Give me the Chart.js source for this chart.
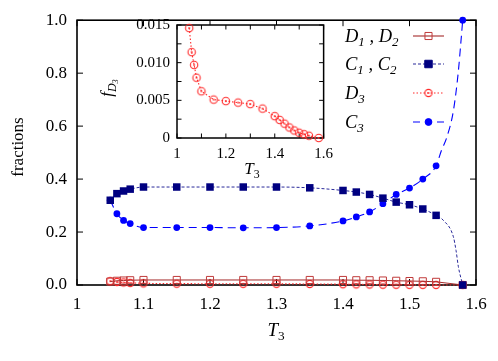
<!DOCTYPE html>
<html><head><meta charset="utf-8">
<script src="https://cdn.jsdelivr.net/npm/chart.js@4"></script>
<style>
html,body{margin:0;padding:0;background:#fff;}
#wrap{position:relative;width:498px;height:361px;overflow:hidden;}
#main{position:absolute;left:0;top:0;}
#inset{position:absolute;left:100px;top:0;}
</style></head><body>
<div id="wrap"><canvas id="main" width="498" height="361"></canvas><canvas id="inset" width="240" height="185"></canvas></div>
<script>
// ---- data ----
const T3 = [1.05,1.06,1.07,1.08,1.10,1.15,1.20,1.25,1.30,1.35,1.40,1.42,1.44,1.46,1.48,1.50,1.52,1.54,1.58];
const D12 = [0.013,0.016,0.017,0.018,0.019,0.019,0.019,0.019,0.019,0.019,0.019,0.018,0.018,0.017,0.016,0.015,0.014,0.012,0];
const C12 = [0.320,0.345,0.355,0.362,0.370,0.370,0.370,0.370,0.370,0.367,0.357,0.351,0.342,0.328,0.313,0.303,0.287,0.263,0];
const D3 = [0.0146,0.0114,0.0097,0.0080,0.0062,0.0051,0.0049,0.0047,0.0045,0.0039,0.0029,0.0024,0.0019,0.0014,0.0010,0.0007,0.0005,0.0003,0];
const C3 = [0.320,0.269,0.244,0.232,0.217,0.217,0.217,0.216,0.217,0.223,0.242,0.257,0.276,0.307,0.342,0.366,0.400,0.450,1.000];
// curve tails (lines without markers)
const C12tailT = [1.551,1.566,1.570,1.5735,1.58];
const C12tail = [0.244,0.182,0.130,0.069,0];
const C3tailT = [1.548,1.556,1.566,1.5735,1.577,1.58];
const C3tail = [0.508,0.557,0.658,0.808,0.909,1.0];
const xTicksMain = [1,1.1,1.2,1.3,1.4,1.5,1.6];
const yTicksMain = [0,0.2,0.4,0.6,0.8,1.0];

const SERIF = "'Liberation Serif','DejaVu Serif',serif";
const colD12 = '#a52a2a', colD12m = '#c03a3a';
const colC12 = '#000080', colC12l = '#2a2a9a';
const colD3 = '#ff2a2a';
const colC3 = '#0000ff';

const pts = (xs, ys) => xs.map((x, i) => ({x, y: ys[i]}));

function ringDot(color, r) {
  const c = document.createElement('canvas');
  const s = Math.ceil(2 * r + 4);
  c.width = s; c.height = s;
  const g = c.getContext('2d');
  g.strokeStyle = color; g.lineWidth = 1.1;
  g.beginPath(); g.arc(s / 2, s / 2, r, 0, 2 * Math.PI); g.stroke();
  g.fillStyle = color;
  g.beginPath(); g.arc(s / 2, s / 2, 0.9, 0, 2 * Math.PI); g.fill();
  return c;
}
const ringMain = ringDot(colD3, 3.6);
const ringInset = ringDot(colD3, 3.7);

// rich text: parts [{t, lvl, it}]
function richWidth(ctx, parts, size) {
  let w = 0;
  parts.forEach(p => {
    const s = size * Math.pow(0.7, p.lvl || 0);
    ctx.font = (p.it ? 'italic ' : '') + s + 'px ' + SERIF;
    w += ctx.measureText(p.t).width;
  });
  return w;
}
function drawRich(ctx, x, y, parts, size, align) {
  ctx.save();
  ctx.textBaseline = 'alphabetic'; ctx.textAlign = 'left'; ctx.fillStyle = '#000';
  let cx = x;
  if (align === 'center') cx = x - richWidth(ctx, parts, size) / 2;
  parts.forEach(p => {
    const lvl = p.lvl || 0;
    const s = size * Math.pow(0.7, lvl);
    ctx.font = (p.it ? 'italic ' : '') + s + 'px ' + SERIF;
    const dy = lvl === 0 ? 0 : (lvl === 1 ? size * 0.22 : size * 0.38);
    ctx.fillText(p.t, cx, y + dy);
    cx += ctx.measureText(p.t).width;
  });
  ctx.restore();
}

function framePlugin(tickLen, lw) {
  return {
    id: 'frame',
    beforeDatasetsDraw(chart) {
      const {ctx, chartArea: a} = chart;
      const x = chart.scales.x, y = chart.scales.y;
      ctx.save();
      ctx.setLineDash([]);
      ctx.strokeStyle = '#000';
      ctx.lineWidth = 1;
      ctx.beginPath();
      x.ticks.forEach(t => {
        const p = x.getPixelForValue(t.value);
        ctx.moveTo(p, a.bottom); ctx.lineTo(p, a.bottom - tickLen);
        ctx.moveTo(p, a.top); ctx.lineTo(p, a.top + tickLen);
      });
      y.ticks.forEach(t => {
        const p = y.getPixelForValue(t.value);
        ctx.moveTo(a.left, p); ctx.lineTo(a.left + tickLen, p);
        ctx.moveTo(a.right, p); ctx.lineTo(a.right - tickLen, p);
      });
      ctx.stroke();
      ctx.lineWidth = lw;
      ctx.strokeRect(a.left, a.top, a.right - a.left, a.bottom - a.top);
      ctx.restore();
    }
  };
}

// ---------- main chart ----------
const legendRows = [
  {parts: [{t: 'D', it: 1}, {t: '1', it: 1, lvl: 1}, {t: ' , ', it: 1}, {t: 'D', it: 1}, {t: '2', it: 1, lvl: 1}],
   color: colD12, dash: [], mcol: colD12m, style: 'rect', r: 5, fill: 'rgba(0,0,0,0)'},
  {parts: [{t: 'C', it: 1}, {t: '1', it: 1, lvl: 1}, {t: ' , ', it: 1}, {t: 'C', it: 1}, {t: '2', it: 1, lvl: 1}],
   color: colC12l, dash: [3, 2], mcol: colC12, style: 'rect', r: 5.3, fill: colC12},
  {parts: [{t: 'D', it: 1}, {t: '3', it: 1, lvl: 1}],
   color: colD3, dash: [1.5, 2], mcol: colD3, style: ringMain, r: 4, fill: 'rgba(0,0,0,0)'},
  {parts: [{t: 'C', it: 1}, {t: '3', it: 1, lvl: 1}],
   color: colC3, dash: [7, 5], mcol: colC3, style: 'circle', r: 3.4, fill: colC3}
];
const rowY = [36, 64, 93, 122];

const mainDecor = {
  id: 'mainDecor',
  afterDraw(chart) {
    const ctx = chart.ctx;
    // axis titles
    drawRich(ctx, 276, 336, [{t: 'T', it: 1}, {t: '3', lvl: 1}], 19, 'center');
    ctx.save();
    ctx.translate(19, 147);
    ctx.rotate(-Math.PI / 2);
    ctx.font = '17px ' + SERIF; ctx.fillStyle = '#000';
    ctx.textAlign = 'center'; ctx.textBaseline = 'middle';
    ctx.fillText('fractions', 0, 0);
    ctx.restore();
    // legend
    legendRows.forEach((r, i) => {
      const yc = rowY[i];
      drawRich(ctx, 345, yc + 6, r.parts, 18.5, 'left');
      ctx.save();
      ctx.strokeStyle = r.color; ctx.lineWidth = 1.1; ctx.setLineDash(r.dash);
      ctx.beginPath(); ctx.moveTo(413, yc); ctx.lineTo(444, yc); ctx.stroke();
      ctx.setLineDash([]);
      ctx.fillStyle = r.fill; ctx.strokeStyle = r.mcol; ctx.lineWidth = 1;
      Chart.helpers.drawPoint(ctx, {pointStyle: r.style, radius: r.r, borderWidth: 1, rotation: 0}, 428.5, yc);
      ctx.restore();
    });
  }
};

new Chart(document.getElementById('main'), {
  type: 'scatter',
  data: {
    datasets: [
      {label: 'C3 line', data: pts(T3.slice(0, 18).concat(C3tailT), C3.slice(0, 18).concat(C3tail)),
       showLine: true, borderColor: colC3, borderWidth: 1.1, borderDash: [8, 5], pointRadius: 0,
       cubicInterpolationMode: 'monotone', clip: false, order: 8},
      {label: 'C12 line', data: pts(T3.slice(0, 18).concat(C12tailT), C12.slice(0, 18).concat(C12tail)),
       showLine: true, borderColor: colC12l, borderWidth: 1, borderDash: [3, 2], pointRadius: 0,
       cubicInterpolationMode: 'monotone', clip: false, order: 7},
      {label: 'D3', data: pts(T3, D3), showLine: true, borderColor: colD3, borderWidth: 1.1, borderDash: [1.5, 2],
       pointStyle: ringMain, pointRadius: 4, clip: false, order: 6},
      {label: 'D12', data: pts(T3, D12), showLine: true, borderColor: colD12, borderWidth: 1,
       pointStyle: 'rect', pointRadius: 5, pointBorderColor: colD12m, pointBackgroundColor: 'rgba(0,0,0,0)',
       pointBorderWidth: 1, clip: false, order: 5},
      {label: 'C3', data: pts(T3, C3), showLine: false, pointStyle: 'circle', pointRadius: 3.4,
       pointBackgroundColor: colC3, pointBorderColor: colC3, pointBorderWidth: 0, clip: false, order: 4},
      {label: 'C12', data: pts(T3, C12), showLine: false, pointStyle: 'rect', pointRadius: 5.3,
       pointBackgroundColor: colC12, pointBorderColor: colC12, pointBorderWidth: 0, clip: false, order: 3}
    ]
  },
  options: {
    responsive: false, animation: false, devicePixelRatio: 1,
    layout: {padding: {left: 0, right: 22, top: 19, bottom: 0}},
    plugins: {legend: {display: false}, tooltip: {enabled: false}},
    scales: {
      x: {type: 'linear', min: 1, max: 1.6,
          grid: {display: false, drawTicks: false}, border: {display: false},
          afterBuildTicks: s => { s.ticks = xTicksMain.map(v => ({value: v})); },
          ticks: {padding: 9, color: '#000', autoSkip: false, maxRotation: 0,
                  font: {family: SERIF, size: 17},
                  callback: v => String(Number(v.toFixed(1)))},
          afterFit: s => { s.height = 76; }},
      y: {type: 'linear', min: 0, max: 1,
          grid: {display: false, drawTicks: false}, border: {display: false},
          afterBuildTicks: s => { s.ticks = yTicksMain.map(v => ({value: v})); },
          ticks: {padding: 10, color: '#000', font: {family: SERIF, size: 17},
                  callback: v => v.toFixed(1)},
          afterFit: s => { s.width = 77; }}
    }
  },
  plugins: [framePlugin(6, 1.6), mainDecor]
});

// ---------- inset ----------
const xTicksInset = [1,1.1,1.2,1.3,1.4,1.5,1.6];
const yTicksInset = [0,0.0025,0.005,0.0075,0.01,0.0125,0.015];
const insetDecor = {
  id: 'insetDecor',
  beforeDraw(chart) {
    const {ctx, chartArea: a} = chart;
    ctx.save(); ctx.fillStyle = '#fff';
    ctx.fillRect(a.left, a.top, a.right - a.left, a.bottom - a.top);
    ctx.restore();
  },
  afterDraw(chart) {
    const ctx = chart.ctx;
    drawRich(ctx, 152, 174, [{t: 'T', it: 1}, {t: '3', lvl: 1}], 17, 'center');
    ctx.save();
    ctx.translate(12, 88);
    ctx.rotate(-Math.PI / 2);
    drawRich(ctx, 0, 0, [{t: 'f', it: 1}, {t: 'D', it: 1, lvl: 1}, {t: '3', it: 1, lvl: 2}], 17, 'center');
    ctx.restore();
  }
};
new Chart(document.getElementById('inset'), {
  type: 'scatter',
  data: {
    datasets: [
      {label: 'D3', data: pts(T3, D3), showLine: true, borderColor: colD3, borderWidth: 1.1, borderDash: [1.5, 2],
       pointStyle: ringInset, pointRadius: 4, clip: false}
    ]
  },
  options: {
    responsive: false, animation: false, devicePixelRatio: 1,
    layout: {padding: {left: 0, right: 15, top: 25, bottom: 0}},
    plugins: {legend: {display: false}, tooltip: {enabled: false}},
    scales: {
      x: {type: 'linear', min: 1, max: 1.6,
          grid: {display: false, drawTicks: false}, border: {display: false},
          afterBuildTicks: s => { s.ticks = xTicksInset.map(v => ({value: v})); },
          ticks: {padding: 7, color: '#000', autoSkip: false, maxRotation: 0,
                  font: {family: SERIF, size: 15},
                  callback: v => { const k = Math.round(v * 10); return k % 2 === 0 ? String(k / 10) : ''; }},
          afterFit: s => { s.height = 47; }},
      y: {type: 'linear', min: 0, max: 0.015,
          grid: {display: false, drawTicks: false}, border: {display: false},
          afterBuildTicks: s => { s.ticks = yTicksInset.map(v => ({value: v})); },
          ticks: {padding: 7, color: '#000', autoSkip: false, font: {family: SERIF, size: 15},
                  callback: v => { const k = Math.round(v / 0.0025); return k % 2 === 0 ? (k === 0 ? '0' : (k * 0.0025).toFixed(3)) : ''; }},
          afterFit: s => { s.width = 77; }}
    }
  },
  plugins: [framePlugin(4.5, 1.5), insetDecor]
});
</script>
</body></html>
